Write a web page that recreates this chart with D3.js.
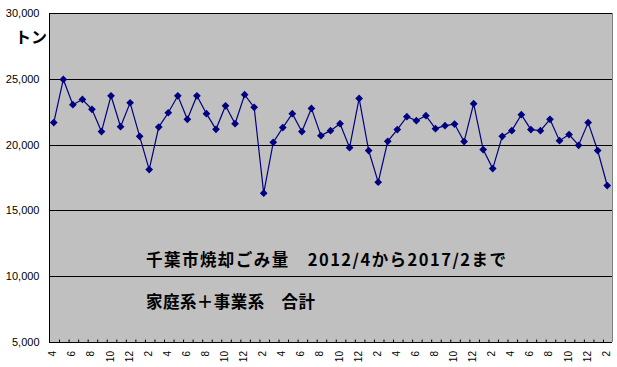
<!DOCTYPE html>
<html>
<head>
<meta charset="utf-8">
<script src="https://cdn.jsdelivr.net/npm/d3@7"></script>
<style>
  body { margin: 0; background: #fff; }
  svg { display: block; }
</style>
</head>
<body>
<div id="chart"></div>
<script>
// 千葉市 焼却ごみ量 (t), 2012/4 - 2017/2
var months = [4, 5, 6, 7, 8, 9, 10, 11, 12, 1, 2, 3,
    4, 5, 6, 7, 8, 9, 10, 11, 12, 1, 2, 3,
    4, 5, 6, 7, 8, 9, 10, 11, 12, 1, 2, 3,
    4, 5, 6, 7, 8, 9, 10, 11, 12, 1, 2, 3,
    4, 5, 6, 7, 8, 9, 10, 11, 12, 1, 2];
var tonnes = [21670, 24950, 23030, 23430, 22680, 20990, 23710, 21360, 23180, 20630, 18100, 21330,
    22420, 23710, 21920, 23710, 22350, 21160, 22950, 21590, 23790, 22830, 16310, 20170,
    21290, 22350, 20990, 22750, 20680, 21060, 21590, 19770, 23510, 19550, 17140, 20250,
    21140, 22120, 21820, 22200, 21210, 21440, 21560, 20230, 23110, 19620, 18180, 20630,
    21060, 22270, 21140, 21060, 21920, 20300, 20760, 19950, 21670, 19550, 16890];
var yTicks = [5000, 10000, 15000, 20000, 25000, 30000];
var unitLabel = "トン";
var noteLines = ["千葉市焼却ごみ量　2012/4から2017/2まで", "家庭系＋事業系　合計"];

var width = 617;
var height = 367;
var plot = {left: 49, right: 612, top: 13, bottom: 342};
var jpFont = "'Noto Sans CJK JP', sans-serif";
var numFont = "'Liberation Sans', Arial, sans-serif";

var svg = d3.select("#chart").append("svg")
    .attr("width", width)
    .attr("height", height);

var x = d3.scaleBand()
    .domain(d3.range(months.length))
    .range([plot.left, plot.right])
    .padding(0);

// boundaries between categories, for the tick marks
var xb = d3.scaleLinear()
    .domain([0, months.length])
    .range([plot.left, plot.right]);

var y = d3.scaleLinear()
    .domain([5000, 30000])
    .range([plot.bottom, plot.top]);

function crisp(v) {
    return Math.round(v) + 0.5;
}

svg.append("rect")
    .attr("x", plot.left)
    .attr("y", plot.top)
    .attr("width", plot.right - plot.left)
    .attr("height", plot.bottom - plot.top)
    .attr("fill", "#c0c0c0");

// right border
svg.append("line")
    .attr("x1", crisp(plot.right)).attr("x2", crisp(plot.right))
    .attr("y1", plot.top).attr("y2", plot.bottom)
    .attr("stroke", "#808080");

svg.append("g")
    .selectAll("line")
    .data(yTicks)
    .join("line")
    .attr("x1", plot.left)
    .attr("x2", plot.right)
    .attr("y1", d => crisp(y(d)))
    .attr("y2", d => crisp(y(d)))
    .attr("stroke", "#000");

var yAxis = svg.append("g")
    .attr("transform", "translate(" + crisp(plot.left) + ",0)")
    .call(d3.axisLeft(y)
        .tickValues(yTicks)
        .tickSize(0)
        .tickPadding(10)
        .tickFormat(d3.format(",")));
yAxis.select(".domain")
    .attr("d", "M0," + plot.top + "V" + (plot.bottom + 1))
    .attr("stroke", "#000");
yAxis.selectAll("text")
    .attr("font-family", numFont)
    .attr("font-size", 11)
    .attr("fill", "#000");

// inner tick marks on the category axis
var tickAxis = svg.append("g")
    .attr("transform", "translate(0," + crisp(plot.bottom) + ")")
    .call(d3.axisBottom(xb)
        .tickValues(d3.range(1, months.length))
        .tickSize(-3)
        .tickFormat(""));
tickAxis.select(".domain").remove();
tickAxis.selectAll("line")
    .attr("stroke", "#000")
    .attr("transform", "translate(0.5,0)");

var xAxis = svg.append("g")
    .attr("transform", "translate(0," + (plot.bottom + 8) + ")")
    .call(d3.axisBottom(x)
        .tickValues(d3.range(0, months.length, 2))
        .tickSize(0)
        .tickPadding(0)
        .tickFormat(i => months[i]));
xAxis.select(".domain").remove();
xAxis.selectAll("text")
    .attr("font-family", numFont)
    .attr("font-size", 10)
    .attr("fill", "#000")
    .attr("text-anchor", "end")
    .attr("x", -1)
    .attr("y", -1)
    .attr("dy", "0.35em")
    .attr("transform", "rotate(-90)");

// series
var line = d3.line()
    .x((d, i) => x(i) + x.bandwidth() / 2)
    .y(d => y(d));

svg.append("path")
    .datum(tonnes)
    .attr("fill", "none")
    .attr("stroke", "#000080")
    .attr("stroke-width", 1.2)
    .attr("d", line);

svg.append("g")
    .selectAll("path")
    .data(tonnes)
    .join("path")
    .attr("d", d3.symbol(d3.symbolSquare, 30))
    .attr("fill", "#000080")
    .attr("transform", (d, i) => "translate(" + (x(i) + x.bandwidth() / 2) + "," + y(d) + ") rotate(45)");

svg.append("text")
    .attr("x", 15)
    .attr("y", 43)
    .attr("font-family", jpFont)
    .attr("font-weight", "bold")
    .attr("font-size", 16)
    .attr("fill", "#000")
    .text(unitLabel);

svg.append("text")
    .attr("x", 146)
    .attr("y", 266)
    .attr("font-family", jpFont)
    .attr("font-weight", "bold")
    .attr("font-size", 16.5)
    .attr("textLength", 360)
    .attr("lengthAdjust", "spacing")
    .attr("fill", "#000")
    .text(noteLines[0]);

svg.append("text")
    .attr("x", 146)
    .attr("y", 308)
    .attr("font-family", jpFont)
    .attr("font-weight", "bold")
    .attr("font-size", 16.5)
    .attr("textLength", 169)
    .attr("lengthAdjust", "spacing")
    .attr("fill", "#000")
    .text(noteLines[1]);
</script>
</body>
</html>
